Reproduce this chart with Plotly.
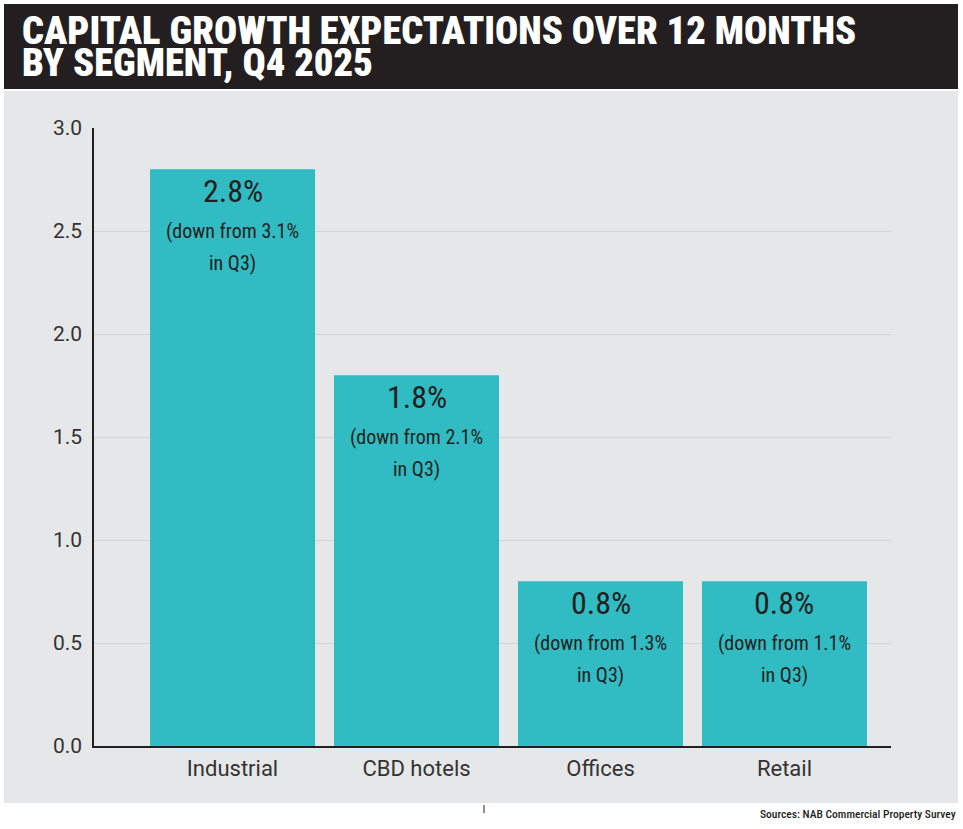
import plotly.graph_objects as go

categories = ["Industrial", "CBD hotels", "Offices", "Retail"]
values_q4 = [2.8, 1.8, 0.8, 0.8]
values_q3 = [3.1, 2.1, 1.3, 1.1]
y_ticks = [0.0, 0.5, 1.0, 1.5, 2.0, 2.5, 3.0]
title_lines = ["CAPITAL GROWTH EXPECTATIONS OVER 12 MONTHS", "BY SEGMENT, Q4 2025"]
source_text = "Sources: NAB Commercial Property Survey"

W, H = 963, 829
ML, MR, MT, MB = 94, 72, 128, 83
PW, PH = W - ML - MR, H - MT - MB

def px(x):
    return (x - ML) / PW

def py(y):
    return (H - MB - y) / PH

BAR = "#31bbc3"
DARK = "#231f20"
PANEL = "#e6e7e8"
COND = "Roboto Condensed"
SANS = "Roboto"

fig = go.Figure()
fig.add_trace(go.Bar(x=categories, y=values_q4, marker=dict(color=BAR, line=dict(width=0)),
                     hoverinfo="skip"))

annotations = []
for c, v, p in zip(categories, values_q4, values_q3):
    annotations.append(dict(x=c, y=v, xref="x", yref="y", text=f"{v:.1f}%", showarrow=False,
                            yanchor="middle", yshift=-22,
                            font=dict(family=COND, size=32, color=DARK, weight=400)))
    annotations.append(dict(x=c, y=v, xref="x", yref="y", text=f"(down from {p:.1f}%",
                            showarrow=False, yanchor="middle", yshift=-62,
                            font=dict(family=COND, size=20, color=DARK)))
    annotations.append(dict(x=c, y=v, xref="x", yref="y", text="in Q3)",
                            showarrow=False, yanchor="middle", yshift=-94,
                            font=dict(family=COND, size=20, color=DARK)))

for i, line in enumerate(title_lines):
    annotations.append(dict(x=px(20), y=py(30 + 33 * i), xref="paper", yref="paper", xanchor="left",
                            yanchor="middle", text=line, showarrow=False, align="left",
                            font=dict(family=COND, size=38.5, color="white", weight=900)))
annotations.append(dict(x=px(958), y=py(814), xref="paper", yref="paper", xanchor="right", yanchor="middle",
                        text=source_text, showarrow=False,
                        font=dict(family=COND, size=11.5, color=DARK, weight=500)))

shapes = [
    dict(type="rect", xref="paper", yref="paper", x0=px(4), x1=px(958), y0=py(91), y1=py(803),
         fillcolor=PANEL, line=dict(width=0), layer="below"),
    dict(type="rect", xref="paper", yref="paper", x0=px(4), x1=px(958), y0=py(4), y1=py(89),
         fillcolor=DARK, line=dict(width=0), layer="below"),
    dict(type="line", xref="paper", yref="paper", x0=px(484), x1=px(484), y0=py(805), y1=py(813),
         line=dict(color=DARK, width=1)),
]

fig.update_layout(
    width=W, height=H,
    margin=dict(l=ML, r=MR, t=MT, b=MB),
    paper_bgcolor="white", plot_bgcolor=PANEL,
    bargap=0.103, showlegend=False,
    annotations=annotations, shapes=shapes,
    xaxis=dict(range=[-0.753, 3.579], showline=True, linecolor=DARK, linewidth=1.5,
               tickfont=dict(family=SANS, size=22, color="#333333"), ticks="", showgrid=False,
               ticklabelstandoff=2, fixedrange=True),
    yaxis=dict(range=[0, 3], tickvals=y_ticks, ticktext=[f"{t:.1f}" for t in y_ticks],
               showline=True, linecolor=DARK, linewidth=1.5, gridcolor="#d2d4d5", gridwidth=1,
               tickfont=dict(family=SANS, size=21, color="#333333"), ticks="", zeroline=False,
               ticklabelstandoff=6, fixedrange=True),
)

fig.write_html("out.html")
